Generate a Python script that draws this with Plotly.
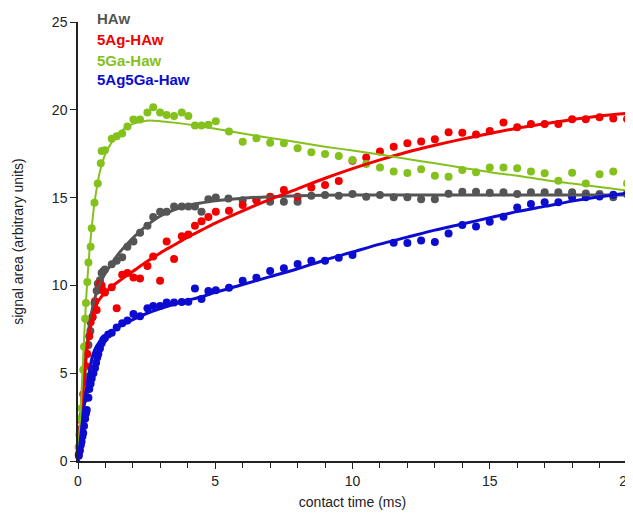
import plotly.graph_objects as go

# ---------------- data ----------------
names = ["HAw", "5Ag-HAw", "5Ga-Haw", "5Ag5Ga-Haw"]
colors = ["#555555", "#f20000", "#84c11c", "#0c0cd0"]

haw_x = [0.05,0.10,0.17,0.22,0.26,0.30,0.38,0.45,0.53,0.60,0.68,0.72,0.80,0.86,0.92,0.98,1.23,1.41,1.61,1.80,2.02,2.26,2.53,2.74,2.99,3.23,3.50,3.78,4.02,4.26,4.50,4.75,5.02,5.48,6.0,6.5,7.0,7.5,8.0,8.5,9.0,9.5,10.0,10.5,11.0,11.5,12.0,12.5,13.0,13.5,14.0,14.5,15.0,15.5,16.0,16.5,17.0,17.5,18.0,18.5,19.0,19.5,20.0]
haw_y = [0.8,1.6,2.6,3.5,3.8,4.8,6.6,7.4,8.2,9.0,9.7,10.1,10.3,10.7,10.8,10.9,11.2,11.4,11.6,12.2,12.5,13.0,13.4,13.9,14.2,14.2,14.5,14.5,14.5,14.5,14.2,14.9,15.0,14.95,14.85,14.85,14.77,14.77,14.77,15.1,15.15,15.1,15.2,15.05,15.15,15.02,15.02,14.9,14.9,15.22,15.34,15.34,15.28,15.3,15.2,15.3,15.3,15.3,15.3,15.24,15.2,15.02,15.2]

ag_x = [0.03,0.07,0.13,0.19,0.26,0.29,0.34,0.41,0.46,0.53,0.62,0.68,0.80,0.86,0.92,0.98,1.23,1.41,1.61,1.80,2.02,2.26,2.53,2.74,2.99,3.23,3.50,3.78,4.02,4.26,4.50,4.75,5.02,5.5,6.0,6.5,7.0,7.5,8.0,8.5,9.0,9.5,10.0,10.5,11.0,11.5,12.0,12.5,13.0,13.5,14.0,14.5,15.0,15.5,16.0,16.5,17.0,17.5,18.0,18.5,19.0,19.5,20.0]
ag_y = [0.4,1.8,2.3,3.8,4.5,5.4,6.1,7.1,7.9,8.2,9.1,8.6,10.1,10.0,9.7,9.6,9.9,8.7,10.6,10.7,10.45,10.4,11.1,11.65,10.26,12.5,11.5,12.8,12.9,13.4,13.65,13.9,14.2,14.25,14.58,14.86,15.05,15.43,15.05,15.58,15.72,15.95,17.1,17.29,17.62,17.9,18.09,18.2,18.32,18.72,18.7,18.6,18.79,19.27,19.0,19.19,19.19,19.19,19.46,19.46,19.57,19.51,19.47]

ga_x = [0.02,0.05,0.10,0.13,0.19,0.22,0.26,0.29,0.34,0.38,0.46,0.50,0.60,0.72,0.83,0.86,0.98,1.23,1.41,1.61,1.80,2.02,2.26,2.53,2.74,2.99,3.23,3.50,3.78,4.02,4.26,4.50,4.75,5.02,5.5,6.0,6.5,7.0,7.5,8.0,8.5,9.0,9.5,10.0,10.5,11.0,11.5,12.0,12.5,13.0,13.5,14.0,14.5,15.0,15.5,16.0,16.5,17.0,17.5,18.0,18.5,19.0,19.5,20.0]
ga_y = [0.8,1.5,2.4,3.0,5.2,6.5,8.1,9.0,10.2,11.3,12.2,13.25,14.7,15.8,16.95,17.65,17.7,18.35,18.5,18.65,19.05,19.45,19.45,19.85,20.15,19.85,19.7,19.65,19.85,19.65,19.1,19.1,19.15,19.35,18.77,18.18,18.38,18.13,18.09,17.81,17.58,17.48,17.37,17.14,16.91,16.72,16.48,16.4,16.61,16.25,16.19,16.57,16.44,16.72,16.72,16.67,16.48,16.38,15.96,16.42,15.81,16.33,16.48,15.81]

agga_x = [0.03,0.07,0.10,0.13,0.16,0.19,0.22,0.26,0.29,0.32,0.38,0.41,0.46,0.50,0.56,0.62,0.66,0.70,0.74,0.80,0.86,0.92,0.98,1.10,1.23,1.41,1.61,1.80,2.02,2.26,2.53,2.74,2.99,3.23,3.50,3.78,4.02,4.26,4.50,4.75,5.02,5.5,6.0,6.5,7.0,7.5,8.0,8.5,9.0,9.5,10.0,11.5,12.0,12.5,13.0,13.5,14.0,14.5,15.0,15.5,16.0,16.5,17.0,17.5,18.0,18.5,19.0,19.5,20.0]
agga_y = [0.3,0.6,0.9,1.1,1.4,1.6,2.0,2.4,2.7,2.9,3.6,4.1,4.4,4.7,5.0,5.3,5.6,5.9,6.1,6.4,6.7,6.9,7.0,7.2,7.3,7.6,7.85,8.0,8.37,8.24,8.7,8.82,8.82,9.03,9.02,9.05,9.07,9.83,9.22,9.68,9.72,9.87,10.27,10.44,10.82,10.97,11.22,11.41,11.41,11.58,11.73,12.43,12.41,12.55,12.47,12.96,13.44,13.35,13.63,13.91,14.44,14.63,14.73,14.73,15.02,15.02,15.06,15.16,15.2]

# fitted curves
fit_x = [0,0.05,0.1,0.15,0.2,0.3,0.4,0.5,0.6,0.7,0.8,1.0,1.25,1.5,2,2.5,3,3.5,4,4.5,5,6,7,8,9,10,11,12,13,14,15,16,17,18,19,20]
fit_haw = [0,1.2,2.3,3.4,4.4,6.2,7.6,8.5,9.2,9.7,10.1,10.7,11.3,11.85,12.7,13.4,13.95,14.3,14.55,14.7,14.82,14.97,15.05,15.1,15.13,15.15,15.15,15.15,15.15,15.15,15.15,15.15,15.15,15.15,15.15,15.15]
fit_ag = [0,1.1,2.2,3.3,4.3,5.9,7.2,8.0,8.6,9.0,9.25,9.6,9.95,10.25,10.8,11.35,11.85,12.3,12.75,13.15,13.55,14.25,14.9,15.5,16.1,16.65,17.15,17.6,17.98,18.33,18.65,18.95,19.2,19.45,19.65,19.8]
fit_ga = [0,1.5,3.0,4.6,6.3,9.3,11.6,13.3,14.7,15.7,16.5,17.5,18.2,18.7,19.2,19.38,19.35,19.27,19.17,19.05,18.92,18.65,18.4,18.15,17.9,17.68,17.45,17.2,16.95,16.7,16.45,16.25,16.0,15.8,15.6,15.4]
fit_agga = [0,0.7,1.4,2.1,2.8,4.0,5.0,5.8,6.3,6.6,6.8,7.1,7.4,7.65,8.05,8.4,8.68,8.93,9.15,9.35,9.6,10.05,10.5,10.95,11.45,11.9,12.35,12.75,13.15,13.5,13.85,14.2,14.5,14.8,15.05,15.25]

x_ticks = [0, 5, 10, 15, 20]
y_ticks = [0, 5, 10, 15, 20, 25]

# ---------------- figure ----------------
pts = [(haw_x, haw_y), (ag_x, ag_y), (ga_x, ga_y), (agga_x, agga_y)]
fits = [fit_haw, fit_ag, fit_ga, fit_agga]
widths = [3, 3, 2, 3]

fig = go.Figure()
for (px, py), c in zip(pts, colors):
    fig.add_trace(go.Scatter(x=px, y=py, mode="markers",
                             marker=dict(color=c, size=8, line=dict(width=0)),
                             showlegend=False, cliponaxis=False))
for fy, c, w in zip(fits, colors, widths):
    fig.add_trace(go.Scatter(x=fit_x, y=fy, mode="lines",
                             line=dict(color=c, width=w, shape="spline", smoothing=0.8),
                             showlegend=False, cliponaxis=False))

legend_y = [1.009, 0.959, 0.913, 0.868]
for n, c, ly in zip(names, colors, legend_y):
    fig.add_annotation(x=0.031, xref="paper", y=ly, yref="paper",
                       text="<b>%s</b>" % n, showarrow=False, xanchor="left",
                       yanchor="middle", font=dict(color=c, size=15,
                       family="Liberation Sans, Arial, sans-serif"))

axis_font = dict(family="Liberation Sans, Arial, sans-serif", size=14, color="#222222")
fig.update_layout(
    width=625, height=505,
    margin=dict(l=70, r=6, t=14, b=52),
    paper_bgcolor="white", plot_bgcolor="white",
    font=axis_font,
    xaxis=dict(range=[0, 20], tickvals=x_ticks, ticks="outside", ticklen=6,
               tickwidth=1.2, tickcolor="#222222", automargin=False,
               ticklabeloverflow="allow",
               showline=True, linecolor="#222222", linewidth=1.5,
               showgrid=False, zeroline=False,
               minor=dict(dtick=1, ticks="outside", ticklen=5, tickcolor="#222222", tickwidth=1.2),
               title=dict(text="contact time (ms)", standoff=10, font=axis_font)),
    yaxis=dict(range=[0, 25], tickvals=y_ticks, ticks="outside", ticklen=6,
               tickwidth=1.2, tickcolor="#222222", automargin=False,
               ticklabeloverflow="allow",
               showline=True, linecolor="#222222", linewidth=1.5,
               showgrid=False, zeroline=False,
               title=dict(text="signal area (arbitrary units)", standoff=25, font=axis_font)),
)

fig.write_html("out.html")
